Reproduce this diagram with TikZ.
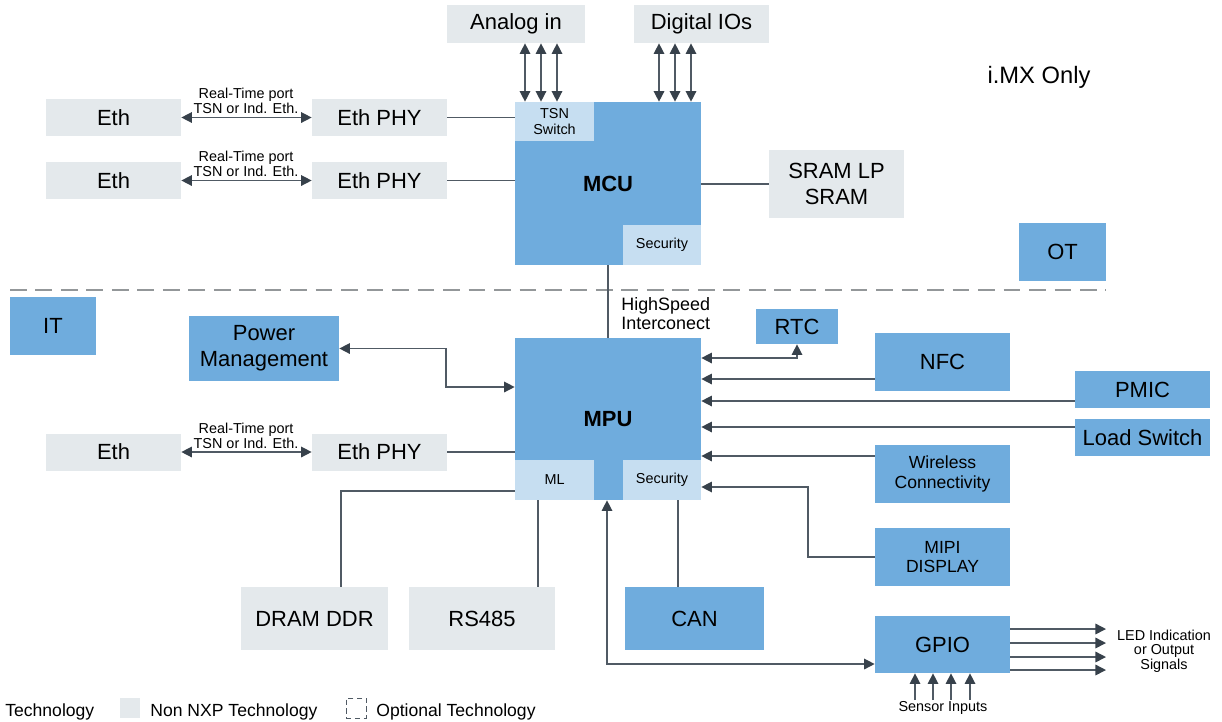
\documentclass[tikz,border=0pt]{standalone}
\usepackage{fontspec}
\setmainfont{Liberation Sans}
\usepackage{xcolor}
\usetikzlibrary{arrows.meta}
\definecolor{nxpblue}{HTML}{6FACDD}
\definecolor{partblue}{HTML}{C6DEF1}
\definecolor{extgray}{HTML}{E4E9EC}
\definecolor{wire}{HTML}{505A64}
\definecolor{tipdark}{HTML}{37414B}
\definecolor{sepgray}{HTML}{939799}

\begin{document}
\begin{tikzpicture}[x=0.02cm, y=-0.02cm,
    blk/.style={inner sep=0pt, align=center, font=\fontsize{12.5}{15}\selectfont},
    nxp/.style={blk, fill=nxpblue},
    ext/.style={blk, fill=extgray},
    part/.style={inner sep=0pt, align=center, fill=partblue, font=\fontsize{8.2}{9}\selectfont},
    wide/.style={minimum width=2.7cm},
    note/.style={inner sep=0pt, align=center, font=\fontsize{8.2}{8.2}\selectfont},
    link/.style={draw=wire, line width=0.8pt},
    tip/.style={-{Triangle[length=6pt,width=6pt,color=tipdark]}},
    dbl/.style={{Triangle[length=6pt,width=6pt,color=tipdark]}-{Triangle[length=6pt,width=6pt,color=tipdark]}}]
  \useasboundingbox (0,0) rectangle (1222,721);

  % top inputs
  \node[ext, minimum width=2.76cm, minimum height=0.76cm] (ana) at (516,24) {Analog in};
  \node[ext, wide, minimum height=0.76cm] (dig) at (701.5,24) {Digital IOs};

  % MCU
  \node[nxp, minimum width=3.72cm, minimum height=3.26cm] (mcu) at (608,183.5) {\textbf{MCU}};
  \node[part, minimum width=1.58cm, minimum height=0.78cm] (tsn) at (554.5,121.5) {TSN\\Switch};
  \node[part, minimum width=1.56cm, minimum height=0.8cm] (sec1) at (662,245) {Security};

  \node[ext, wide, minimum height=0.74cm] (eth1) at (113.5,117.5) {Eth};
  \node[ext, wide, minimum height=0.74cm] (eth2) at (113.5,180.5) {Eth};
  \node[ext, wide, minimum height=0.74cm] (phy1) at (379.5,117.5) {Eth PHY};
  \node[ext, wide, minimum height=0.74cm] (phy2) at (379.5,180.5) {Eth PHY};
  \node[note] (rt1) at (246,101) {Real-Time port\\TSN or Ind. Eth.};
  \node[note] (rt2) at (246,164) {Real-Time port\\TSN or Ind. Eth.};

  \node[ext, wide, minimum height=1.36cm] (sram) at (836.5,184) {SRAM LP\\SRAM};
  \node[nxp, minimum width=1.74cm, minimum height=1.16cm] (ot) at (1062.5,252) {OT};
  \node[blk, font=\fontsize{13.5}{16}\selectfont] (imx) at (1039,77) {i.MX Only};

  % OT / IT border
  \coordinate (cutl) at (10,290);
  \coordinate (cutr) at (1106,290);
  \draw[sepgray, line width=1.6pt, dash pattern=on 9.5pt off 5pt] (cutl) -- (cutr);
  \node[nxp, minimum width=1.72cm, minimum height=1.16cm] (it) at (53,326) {IT};

  % MPU
  \node[nxp, minimum width=3.72cm, minimum height=3.24cm] (mpu) at (608,419) {\textbf{MPU}};
  \node[part, minimum width=1.58cm, minimum height=0.8cm] (ml) at (554.5,480) {ML};
  \node[part, minimum width=1.56cm, minimum height=0.8cm] (sec2) at (662,480) {Security};
  \node[blk, anchor=west, align=left, font=\fontsize{10.2}{10.8}\selectfont] (hsi) at (621,314) {HighSpeed\\Interconect};

  \node[nxp, minimum width=3cm, minimum height=1.3cm] (pm) at (264,348.5) {Power\\Management};
  \node[ext, wide, minimum height=0.74cm] (eth3) at (113.5,452) {Eth};
  \node[ext, wide, minimum height=0.74cm] (phy3) at (379.5,452) {Eth PHY};
  \node[note] (rt3) at (246,436) {Real-Time port\\TSN or Ind. Eth.};

  \node[nxp, minimum width=1.64cm, minimum height=0.7cm] (rtc) at (797,326.5) {RTC};
  \node[nxp, wide, minimum height=1.16cm] (nfc) at (942.5,362) {NFC};
  \node[nxp, wide, minimum height=0.74cm] (pmic) at (1142.5,389.5) {PMIC};
  \node[nxp, wide, minimum height=0.74cm] (load) at (1142.5,437.5) {Load Switch};
  \node[nxp, wide, minimum height=1.16cm, font=\fontsize{10}{11.3}\selectfont] (wifi) at (942.5,474) {Wireless\\Connectivity};
  \node[nxp, wide, minimum height=1.16cm, font=\fontsize{10}{11.3}\selectfont] (mipi) at (942.5,557) {MIPI\\DISPLAY};
  \node[nxp, wide, minimum height=1.14cm] (gpio) at (942.5,644.5) {GPIO};

  \node[ext, minimum width=2.94cm, minimum height=1.26cm] (dram) at (314.5,618.5) {DRAM DDR};
  \node[ext, minimum width=2.92cm, minimum height=1.26cm] (rs) at (482,618.5) {RS485};
  \node[nxp, minimum width=2.78cm, minimum height=1.26cm] (can) at (694.5,618.5) {CAN};

  \node[note] (led) at (1164,651) {LED Indication\\or Output\\Signals};
  \coordinate (ledin) at (1106,650);
  \node[note] (sens) at (943,708) {Sensor Inputs};
  \coordinate (sensin) at (943,700);

  % connectors
  \foreach \x in {525,541,557}
    \draw[link,dbl] (\x,0 |- ana.south) -- (\x,0 |- mcu.north);
  \foreach \x in {659,675,691}
    \draw[link,dbl] (\x,0 |- dig.south) -- (\x,0 |- mcu.north);

  \draw[link,dbl] (eth1) -- (phy1);
  \draw[link,dbl] (eth2) -- (phy2);
  \draw[link,dbl] (eth3) -- (phy3);
  \draw[link] (phy1.east) -- (phy1.east -| tsn.west);
  \draw[link] (phy2.east) -- (phy2.east -| mcu.west);
  \draw[link] (phy3.east) -- (phy3.east -| mpu.west);
  \draw[link] (sram.west) -- (sram.west -| mcu.east);
  \draw[link] (mcu.south) -- (mpu.north);

  \draw[link,dbl] (pm.east) -| (446,387) -- (mpu.west |- 446,387);
  \draw[link,dbl] (mpu.east |- 0,358) -| (rtc.south);
  \draw[link,tip] (nfc.west |- 0,379) -- (mpu.east |- 0,379);
  \draw[link,tip] (pmic.west |- 0,401) -- (mpu.east |- 0,401);
  \draw[link,tip] (load.west |- 0,427) -- (mpu.east |- 0,427);
  \draw[link,tip] (wifi.west |- 0,456) -- (mpu.east |- 0,456);
  \draw[link,tip] (mipi.west) -| (808,487) -- (sec2.east |- 808,487);
  \draw[link,dbl] (mpu.south -| 607,0) |- (gpio.west |- 0,664);

  \draw[link] (ml.west |- 0,491) -| (341,0 |- dram.north);
  \draw[link] (ml.south -| 538,0) -- (538,0 |- rs.north);
  \draw[link] (sec2.south -| 678,0) -- (678,0 |- can.north);

  \foreach \y in {629,643,657,670}
    \draw[link,tip] (gpio.east |- 0,\y) -- (ledin |- 0,\y);
  \foreach \x in {915,933,951,970}
    \draw[link,tip] (\x,0 |- sensin) -- (\x,0 |- gpio.south);

  % legend
  \node[blk, anchor=base west, font=\fontsize{10}{12}\selectfont] (lgtech) at (5,716) {Technology};
  \node[fill=extgray, minimum size=0.4cm, inner sep=0pt] (lgnon) at (130,708) {};
  \node[blk, anchor=base west, font=\fontsize{10}{12}\selectfont] (lgnontxt) at (150,716) {Non NXP Technology};
  \node[draw=wire, densely dashed, line width=0.5pt, minimum size=0.4cm, inner sep=0pt] (lgopt) at (356,708) {};
  \node[blk, anchor=base west, font=\fontsize{10}{12}\selectfont] (lgopttxt) at (376,716) {Optional Technology};
\end{tikzpicture}
\end{document}
